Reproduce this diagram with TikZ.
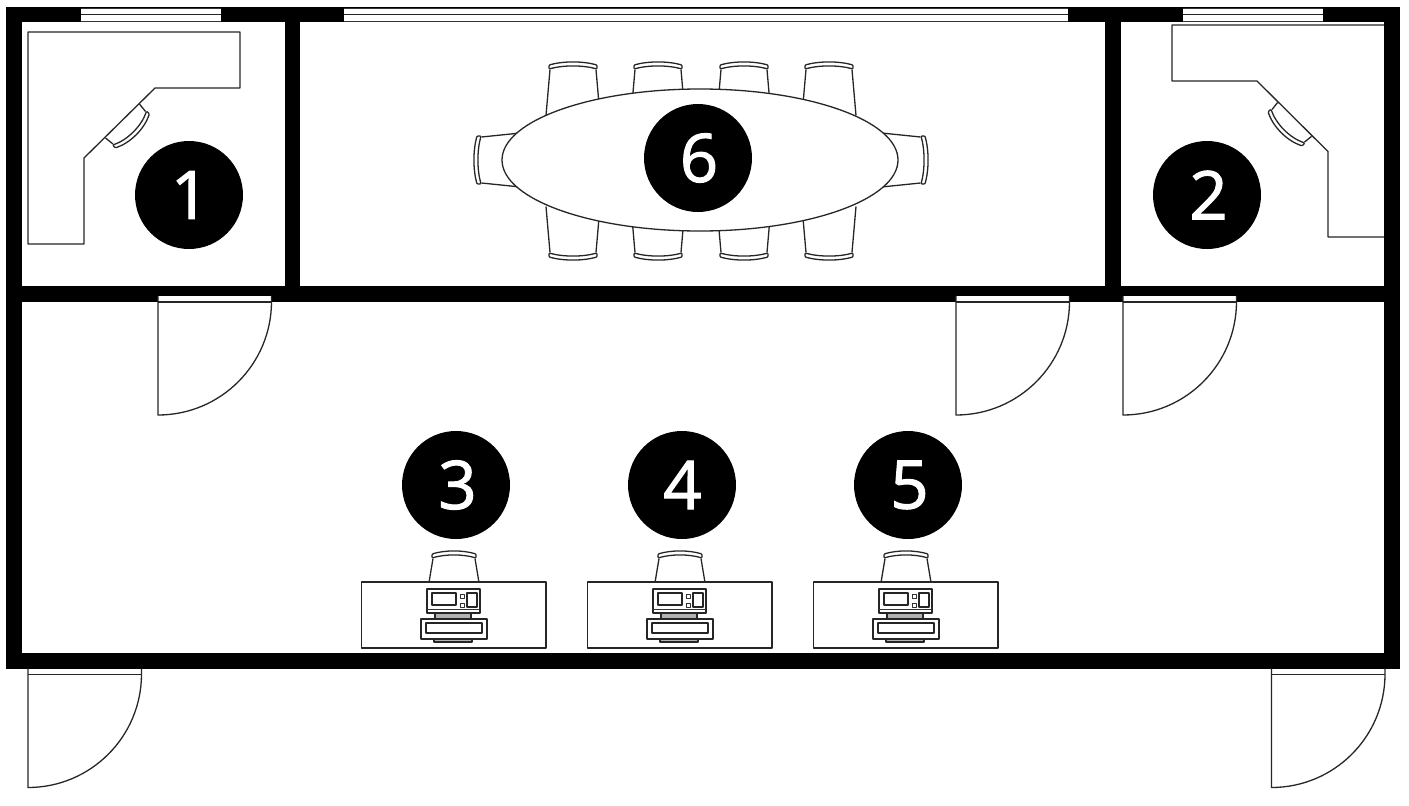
\documentclass[tikz,border=0pt]{standalone}
\usepackage{fontspec}
\setmainfont{Open Sans}
\newfontfamily\badgefont[FakeBold=1.6]{Open Sans}
\tikzset{
  x=1pt,y=-1pt,
  wall/.style={fill=black,draw=none},
  room/.style={fill=white,draw=none},
  ln/.style={draw=black!85,line width=1.3pt,line join=round},
  fine/.style={draw=black!80,line width=1pt,line join=round},
  badge/.style={circle,fill=black,minimum size=108pt,inner sep=0pt},
  digit/.style={text=white,inner sep=0pt,font=\badgefont\fontsize{67}{67}\selectfont},
}
% x, y of the back centre, rotation, depth, back half width, seat half width, control rise
\newcommand{\chairat}[7]{%
  \begin{scope}[shift={(#1,#2)},rotate=#3]
    \draw[ln] ({-#5+1},6) -- ({-#6},#4) ({#5-1},6) -- ({#6},#4);
    \draw[ln,fill=white,rounded corners=1pt] ({-#5},1.5) .. controls ({-0.4*#5},{1.5-#7}) and ({0.4*#5},{1.5-#7}) .. ({#5},1.5) -- ({#5},5.5) .. controls ({0.4*#5},{5.5-#7}) and ({-0.4*#5},{5.5-#7}) .. ({-#5},5.5) -- cycle;
  \end{scope}}
\newcommand{\window}[2]{%
  \fill[white] (#1,8) rectangle (#2,21);
  \draw[ln] (#1,14.5) -- (#2,14.5);
  \draw[fine] (#1,8) -- (#2,8) (#1,21) -- (#2,21);}
% opening left x, top y, line y, width 113
\newcommand{\doorat}[3]{%
  \fill[white] (#1,#2) rectangle ({#1+113.5},#3);
  \draw[ln] (#1,#2) -- (#1,{#3+113}) arc[start angle=-90,end angle=0,radius=113.5pt] -- ({#1+113.5},#2);
  \draw[ln] (#1,#3) -- ({#1+113.5},#3);}
\newcommand{\station}[1]{%
  \begin{scope}[xshift=#1pt]
    \chairat{454}{552.5}{0}{30}{22}{25}{4}
    \draw[ln,fill=white] (361.5,582) rectangle (546,648);
    \draw[ln] (427,589) rectangle (480,613);
    \draw[fine] (427,609.5) -- (480,609.5);
    \draw[ln] (432,593) rectangle (456,605);
    \draw[fine] (460,594) rectangle (464,598) (460,603) rectangle (464,607);
    \draw[ln] (467,593) rectangle (477,607);
    \draw[ln,fill=black!30] (435,613) rectangle (471,619);
    \draw[ln] (421,619) rectangle (487,639);
    \draw[ln] (426,623) rectangle (482,633);
    \draw[ln,fill=black!30] (434,639) rectangle (472,642);
  \end{scope}}
\begin{document}
\begin{tikzpicture}
\useasboundingbox (0,0) rectangle (1409,806);
% walls
\fill[wall] (6,7) rectangle (1399.5,668.5);
\fill[room] (21.5,22) rectangle (285,286);
\fill[room] (300,22) rectangle (1105,286);
\fill[room] (1120.5,22) rectangle (1384,286);
\fill[room] (21.5,301.5) rectangle (1384,653);
% windows
\window{81}{221}
\window{344}{1068}
\window{1183}{1323}
% doors
\doorat{158}{295.5}{302}
\doorat{956}{295.5}{302}
\doorat{1123}{295.5}{302}
\doorat{28}{668.5}{674.5}
\doorat{1271.5}{668.5}{674.5}
% corner desks
\draw[ln] (28,32) -- (240,32) -- (240,88) -- (155,88) -- (84,158) -- (84,244) -- (28,244) -- cycle;
\chairat{133.5}{132}{-135}{15.5}{24}{24}{7}
\draw[ln] (1384,25) -- (1172,25) -- (1172,81) -- (1257,81) -- (1328,151.5) -- (1328,237) -- (1384,237);
\chairat{1284}{130}{135}{15}{24}{24}{7}
% meeting table
\foreach \cx in {573,658,744,829}{
  \chairat{\cx}{63.5}{0}{52}{24}{27}{4}
  \chairat{\cx}{258.5}{180}{52}{24}{27}{4}
}
\chairat{475.5}{160}{90}{45}{24}{27}{4}
\chairat{926.5}{160}{-90}{45}{24}{27}{4}
\draw[ln,fill=white] (700,160) ellipse[x radius=198pt,y radius=71pt];
% workstations
\station{0}
\station{226}
\station{452}
% badges
\node[badge] (n1) at (189,195) {};
\node[badge] (n2) at (1207,195) {};
\node[badge] (n3) at (456,485) {};
\node[badge] (n4) at (682,485) {};
\node[badge] (n5) at (908,485) {};
\node[badge] (n6) at (698,158) {};
\node[digit] (d1) at ([xshift=1pt]n1.center) {1};
\node[digit] (d2) at ([xshift=1.5pt]n2.center) {2};
\node[digit] (d3) at ([xshift=1.5pt]n3.center) {3};
\node[digit] (d4) at ([xshift=0.5pt]n4.center) {4};
\node[digit] (d5) at ([xshift=1.5pt]n5.center) {5};
\node[digit] (d6) at ([xshift=1pt]n6.center) {6};
\end{tikzpicture}
\end{document}
